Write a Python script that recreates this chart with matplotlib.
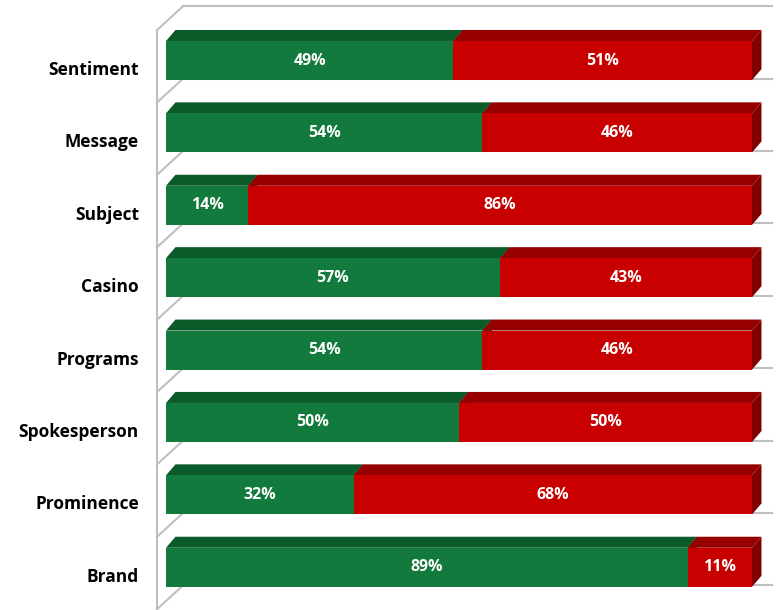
import matplotlib
matplotlib.use('Agg')
import matplotlib.pyplot as plt
from matplotlib.patches import Polygon
from matplotlib import font_manager

categories = ['Sentiment', 'Message', 'Subject', 'Casino', 'Programs',
              'Spokesperson', 'Prominence', 'Brand']
positive = [49, 54, 14, 57, 54, 50, 32, 89]
negative = [51, 46, 86, 43, 46, 50, 68, 11]

# pick a narrow bold face if one is around
names = {f.name for f in font_manager.fontManager.ttflist}
label_font = 'DejaVu Sans'
for cand in ['Liberation Sans Narrow', 'Open Sans', 'Lato']:
    if cand in names:
        label_font = cand
        break

GREEN = ('#127a3c', '#0b5a2a', '#0a4f25')
RED = ('#c80000', '#960000', '#820000')
GRID = '#bfbfbf'

fig = plt.figure(figsize=(7.77, 6.10), dpi=100)
ax = fig.add_axes([0, 0, 1, 1])
ax.set_xlim(-28.33, 104.27)
ax.set_ylim(7.59, -0.836)
ax.axis('off')

bar_h = 0.27      # half height of the front face
ddx, ddy = 1.62, -0.152   # bar depth
wx0 = -1.54               # left wall front edge
wdx, wdy = 4.44, -0.33    # wall depth
n = len(categories)

# left wall and back wall grid
ax.plot([wx0, wx0], [-0.42, n], color=GRID, lw=1.5, zorder=1)
for k in range(n + 1):
    yb = -0.42 + k
    ax.plot([wx0, wx0 + wdx], [yb, yb + wdy], color=GRID, lw=1.5, zorder=1)
    ax.plot([wx0 + wdx, 103.4], [yb + wdy, yb + wdy], color=GRID, lw=1.5, zorder=1)


def box(x0, x1, yc, cols, z):
    front, top, side = cols
    yt, yb = yc - bar_h, yc + bar_h
    ax.add_patch(Polygon([(x0, yt), (x1, yt), (x1 + ddx, yt + ddy), (x0 + ddx, yt + ddy)],
                         closed=True, fc=top, ec='none', zorder=z))
    ax.add_patch(Polygon([(x1, yt), (x1 + ddx, yt + ddy), (x1 + ddx, yb + ddy), (x1, yb)],
                         closed=True, fc=side, ec='none', zorder=z))
    ax.add_patch(Polygon([(x0, yt), (x1, yt), (x1, yb), (x0, yb)],
                         closed=True, fc=front, ec='none', zorder=z + 0.5))


for i, (cat, p, q) in enumerate(zip(categories, positive, negative)):
    # green segment first so the red block hides its end face
    box(0, p, i, GREEN, 3)
    box(p, p + q, i, RED, 4)
    ax.text(p / 2, i, f'{p}%', color='white', fontsize=11.5, fontweight='bold',
            ha='center', va='center', family=label_font, zorder=6)
    ax.text(p + q / 2, i, f'{q}%', color='white', fontsize=11.5, fontweight='bold',
            ha='center', va='center', family=label_font, zorder=6)
    ax.text(-4.64, i + 0.13, cat, color='black', fontsize=12.5, fontweight='bold',
            ha='right', va='center', family=label_font)

fig.savefig('out.png', dpi=100)
